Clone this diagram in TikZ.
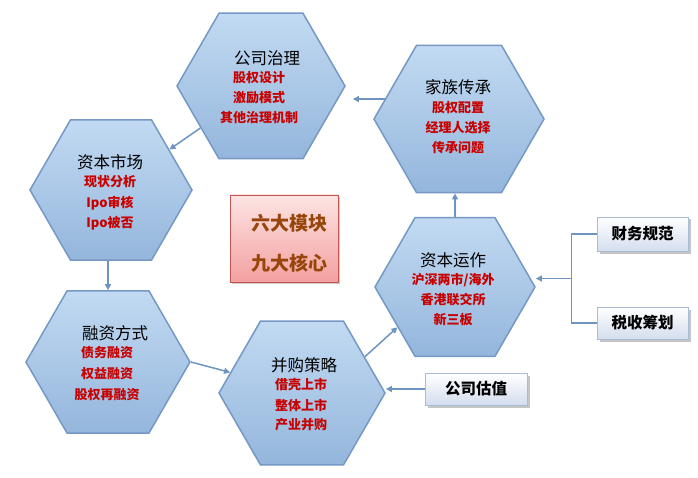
\documentclass[tikz,border=0pt]{standalone}
\usepackage{fontspec}
\newfontfamily\cjk{Noto Sans CJK SC}
\usetikzlibrary{shapes.geometric,shadows,arrows.meta,calc}
\definecolor{hexedge}{RGB}{118,152,196}
\definecolor{hextop}{RGB}{194,218,242}
\definecolor{hexbot}{RGB}{148,182,220}
\definecolor{arrc}{RGB}{111,148,192}
\definecolor{redt}{RGB}{200,0,0}
\definecolor{brownt}{RGB}{150,70,10}
\definecolor{sbedge}{RGB}{168,188,214}
\definecolor{sbbot}{RGB}{212,222,238}
\definecolor{pinktop}{RGB}{253,228,228}
\definecolor{pinkbot}{RGB}{244,160,160}
\definecolor{pinkedge}{RGB}{196,86,82}
\begin{document}
\begin{tikzpicture}[x=1pt,y=-1pt,
  hexa/.style={regular polygon, regular polygon sides=6, draw=hexedge, line width=1.5pt,
    top color=hextop, bottom color=hexbot, inner sep=0pt},
  ttl/.style={font=\cjk\fontsize{16.5}{18}\selectfont, text=black, inner sep=0pt},
  sub/.style={font=\cjk\bfseries\fontsize{13}{14}\selectfont, text=redt, inner sep=0pt},
  arr/.style={draw=arrc, line width=1.5pt, -{Triangle[length=6pt,width=6pt]}},
  conn/.style={draw=arrc, line width=1.5pt},
  sidebox/.style={draw=sbedge, line width=0.8pt, top color=white, bottom color=sbbot,
    drop shadow={shadow xshift=2.5pt, shadow yshift=-2.5pt, opacity=0.45},
    font=\cjk\bfseries\fontsize{15.5}{17}\selectfont, inner sep=0pt},
  corebox/.style={draw=pinkedge, line width=0.8pt, top color=pinktop, bottom color=pinkbot,
    drop shadow={shadow xshift=2pt, shadow yshift=-2pt, opacity=0.4}, inner sep=0pt},
  coretxt/.style={font=\cjk\bfseries\fontsize{19}{21}\selectfont, text=brownt, inner sep=0pt}
]
\useasboundingbox[fill=white] (0,0) rectangle (698,478);

% hexagons
\node[hexa, minimum size=168pt] (gs) at (261,86) {};
\node[hexa, minimum size=170pt] (jz) at (459,119) {};
\node[hexa, minimum size=162pt] (sc) at (111,190) {};
\node[hexa, minimum size=160pt] (zy) at (455,287) {};
\node[hexa, minimum size=164pt] (rz) at (108,362) {};
\node[hexa, minimum size=166pt] (bg) at (302,393) {};

% central box
\node[corebox, minimum width=108pt, minimum height=87pt] (core) at (284,238.5) {};
\node[coretxt] (core1) at (289,223) {六大模块};
\node[coretxt] (core2) at (289,263) {九大核心};

% side boxes
\node[sidebox, minimum width=102pt, minimum height=32pt] (gz) at (476,389) {公司估值};
\node[sidebox, minimum width=91pt, minimum height=34pt] (cw) at (642.5,234) {财务规范};
\node[sidebox, minimum width=91pt, minimum height=32pt] (ss) at (642.5,323) {税收筹划};

% texts
\node[ttl] (gs-t) at (267,58) {公司治理};
\node[sub] (gs-1) at (259,78) {股权设计};
\node[sub] (gs-2) at (259,98) {激励模式};
\node[sub] (gs-3) at (259,118) {其他治理机制};

\node[ttl] (jz-t) at (458,87) {家族传承};
\node[sub] (jz-1) at (458,108) {股权配置};
\node[sub] (jz-2) at (458,128) {经理人选择};
\node[sub] (jz-3) at (458,148) {传承问题};

\node[ttl] (sc-t) at (110,162) {资本市场};
\node[sub] (sc-1) at (110,182) {现状分析};
\node[sub] (sc-2) at (110,203) {Ipo审核};
\node[sub] (sc-3) at (110,223) {Ipo被否};

\node[ttl] (zy-t) at (453,260) {资本运作};
\node[sub] (zy-1) at (453,280) {沪深两市/海外};
\node[sub] (zy-2) at (453,300) {香港联交所};
\node[sub] (zy-3) at (453,320) {新三板};

\node[ttl] (rz-t) at (115,333) {融资方式};
\node[sub] (rz-1) at (107,353) {债务融资};
\node[sub] (rz-2) at (107,374) {权益融资};
\node[sub] (rz-3) at (107,395) {股权再融资};

\node[ttl] (bg-t) at (304,365) {并购策略};
\node[sub] (bg-1) at (301,385) {借壳上市};
\node[sub] (bg-2) at (301,405) {整体上市};
\node[sub] (bg-3) at (301,425) {产业并购};

% connectors
\draw[arr, shorten >=7pt] (jz.165) -- (jz.165 -| gs.east);
\draw[arr] (gs) -- (sc);
\draw[arr] (sc.south -| rz.north) -- (rz.north);
\draw[arr] (rz.east) -- (bg.164);
\draw[arr] (bg.30) -- (zy.215);
\draw[arr] (zy.north) -- (zy.north |- jz.south);
\draw[arr] (gz.west) -- (gz.west -| bg.east);
\coordinate (bj) at ($(cw.west)!0.5!(ss.west)+(-25,0)$);
\draw[conn] (cw.west) -| (bj) |- (ss.west);
\draw[arr] (bj) -- (bj -| zy.east);
\end{tikzpicture}
\end{document}
